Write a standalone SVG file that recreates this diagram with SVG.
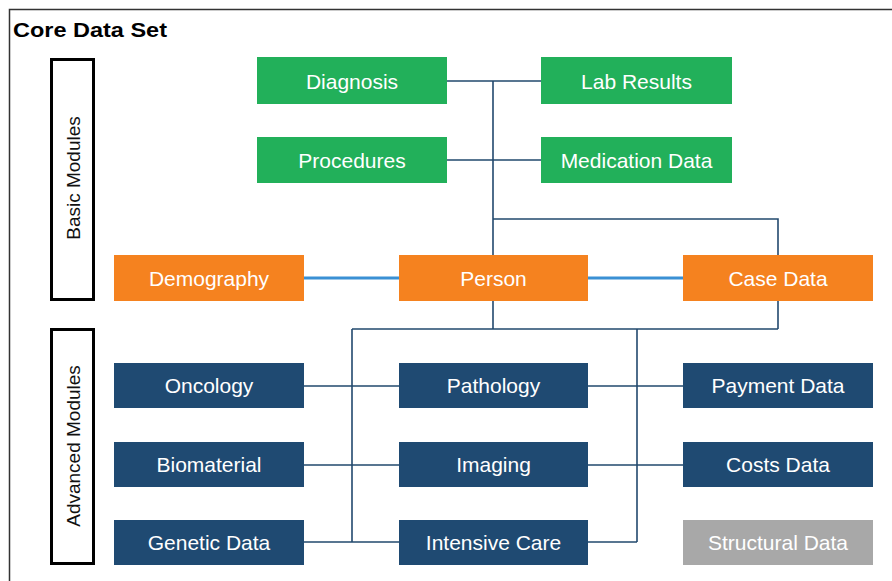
<svg xmlns="http://www.w3.org/2000/svg" width="892" height="581" viewBox="0 0 892 581">
<style>
.lbl{font-family:"Liberation Sans",Arial,sans-serif;font-size:21px;fill:#ffffff;text-anchor:middle;dominant-baseline:central}
.side{font-family:"Liberation Sans",Arial,sans-serif;font-size:19px;fill:#111111;text-anchor:middle;dominant-baseline:central}
.g{fill:#22B05A}
.o{fill:#F5821F}
.b{fill:#1F4A72}
.gr{fill:#A8A8A8}
.ln{stroke:#22496E;stroke-width:1.6;fill:none}
.lb{stroke:#3A90D4;stroke-width:3;fill:none}
</style>
<rect x="0" y="0" width="892" height="581" fill="#ffffff"/>
<rect x="9.5" y="9.5" width="900" height="600" fill="none" stroke="#333333" stroke-width="1.5"/>
<text x="13" y="37" font-family="'Liberation Sans',Arial,sans-serif" font-weight="bold" font-size="21" fill="#000000" textLength="154" lengthAdjust="spacingAndGlyphs">Core Data Set</text>

<g id="basic-modules">
<rect x="51.5" y="59.5" width="42" height="240" fill="none" stroke="#000000" stroke-width="3"/>
<text class="side" transform="translate(73,178) rotate(-90)">Basic Modules</text>
</g>
<g id="advanced-modules">
<rect x="51.5" y="329.5" width="42" height="234" fill="none" stroke="#000000" stroke-width="3"/>
<text class="side" transform="translate(73,446) rotate(-90)">Advanced Modules</text>
</g>

<g id="connectors">
<path class="ln" d="M447 81H541 M447 160H541 M493 81V255 M493 219H778V255"/>
<path class="lb" d="M304 278H399 M588 278H683"/>
<path class="ln" d="M493 301V329 M778 301V329 M352 329H778 M352 329V542 M637 329V542"/>
<path class="ln" d="M304 386H399 M588 386H683 M304 465H399 M588 465H683 M304 542H399 M588 542H637"/>
</g>

<g id="diagnosis"><rect class="g" x="257" y="57" width="190" height="47"/><text class="lbl" x="352" y="81">Diagnosis</text></g>
<g id="lab-results"><rect class="g" x="541" y="57" width="191" height="47"/><text class="lbl" x="636.5" y="81">Lab Results</text></g>
<g id="procedures"><rect class="g" x="257" y="137" width="190" height="46"/><text class="lbl" x="352" y="160">Procedures</text></g>
<g id="medication-data"><rect class="g" x="541" y="137" width="191" height="46"/><text class="lbl" x="636.5" y="160">Medication Data</text></g>

<g id="demography"><rect class="o" x="114" y="255" width="190" height="46"/><text class="lbl" x="209" y="278">Demography</text></g>
<g id="person"><rect class="o" x="399" y="255" width="189" height="46"/><text class="lbl" x="493.5" y="278">Person</text></g>
<g id="case-data"><rect class="o" x="683" y="255" width="190" height="46"/><text class="lbl" x="778" y="278">Case Data</text></g>

<g id="oncology"><rect class="b" x="114" y="363" width="190" height="45"/><text class="lbl" x="209" y="385.5">Oncology</text></g>
<g id="pathology"><rect class="b" x="399" y="363" width="189" height="45"/><text class="lbl" x="493.5" y="385.5">Pathology</text></g>
<g id="payment-data"><rect class="b" x="683" y="363" width="190" height="45"/><text class="lbl" x="778" y="385.5">Payment Data</text></g>

<g id="biomaterial"><rect class="b" x="114" y="442" width="190" height="45"/><text class="lbl" x="209" y="464.5">Biomaterial</text></g>
<g id="imaging"><rect class="b" x="399" y="442" width="189" height="45"/><text class="lbl" x="493.5" y="464.5">Imaging</text></g>
<g id="costs-data"><rect class="b" x="683" y="442" width="190" height="45"/><text class="lbl" x="778" y="464.5">Costs Data</text></g>

<g id="genetic-data"><rect class="b" x="114" y="520" width="190" height="45"/><text class="lbl" x="209" y="542.5">Genetic Data</text></g>
<g id="intensive-care"><rect class="b" x="399" y="520" width="189" height="45"/><text class="lbl" x="493.5" y="542.5">Intensive Care</text></g>
<g id="structural-data"><rect class="gr" x="683" y="520" width="190" height="45"/><text class="lbl" x="778" y="542.5">Structural Data</text></g>
</svg>
